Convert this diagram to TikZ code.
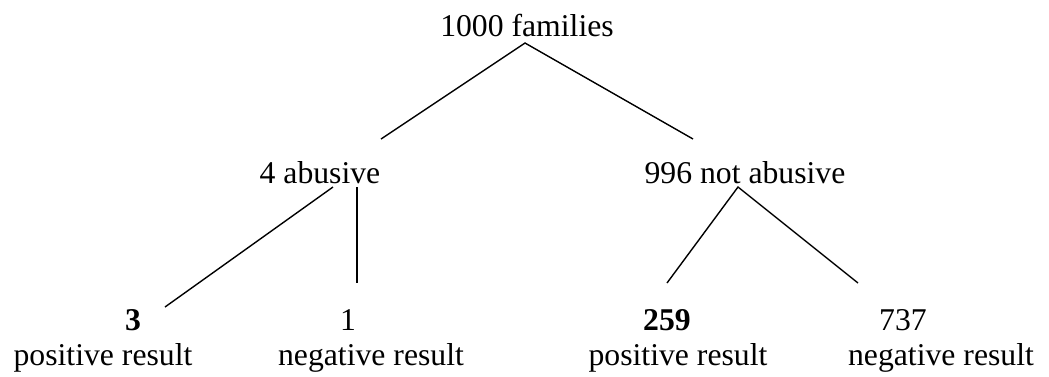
\documentclass[tikz,border=0pt]{standalone}
\usepackage{fontspec}
\setmainfont{Liberation Serif}
\begin{document}
\begin{tikzpicture}[x=0.5pt,y=-0.5pt,line width=0.7pt,lbl/.style={font=\fontsize{15.85}{19}\selectfont,inner sep=0pt,anchor=base}]
\useasboundingbox (0,0) rectangle (1049,376);
\node[lbl](fam) at (527,36){1000 families};
\node[lbl](abu) at (320,183){4 abusive};
\node[lbl](nab) at (745,183){996 not abusive};
\node[lbl](pos1) at (133,330){\textbf{3}};
\node[lbl](pos1t) at (103,365){positive result};
\node[lbl](neg1) at (348,330){1};
\node[lbl](neg1t) at (371,365){negative result};
\node[lbl](pos2) at (667,330){\textbf{259}};
\node[lbl](pos2t) at (678,365){positive result};
\node[lbl](neg2) at (903,330){737};
\node[lbl](neg2t) at (941,365){negative result};
\coordinate (fam-top) at (525,43);
\coordinate (fam-l) at (381,139);
\coordinate (fam-r) at (693,139);
\coordinate (abu-a) at (333,187);
\coordinate (abu-b) at (357,187);
\coordinate (pos1-end) at (165,307);
\coordinate (neg1-end) at (357,283);
\coordinate (nab-top) at (738,187);
\coordinate (pos2-end) at (667,283);
\coordinate (neg2-end) at (858,283);
\draw(fam-l)--(fam-top)--(fam-r);
\draw(abu-a)--(pos1-end);
\draw(abu-b)--(neg1-end);
\draw(pos2-end)--(nab-top)--(neg2-end);
\end{tikzpicture}
\end{document}
